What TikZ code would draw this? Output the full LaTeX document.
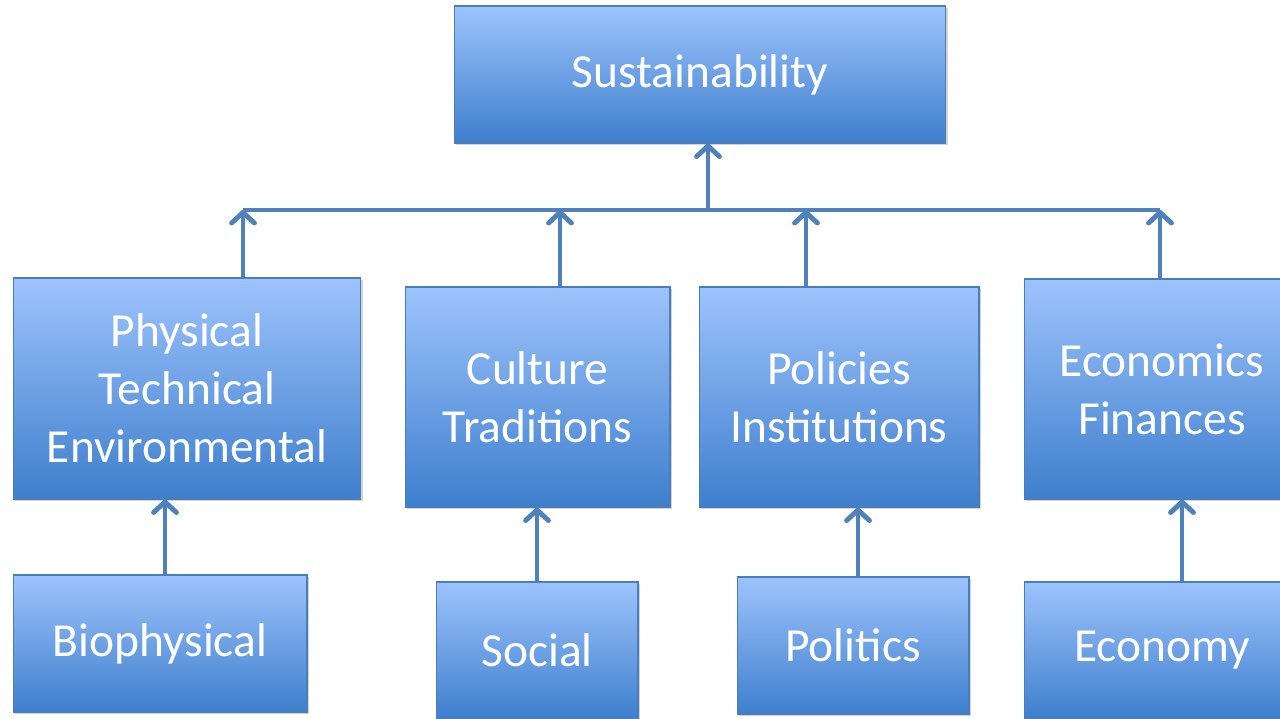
\documentclass[tikz,border=0pt]{standalone}
\usepackage{fontspec}
\setmainfont{Carlito}
\usetikzlibrary{arrows.meta,shadows}
\definecolor{boxtop}{RGB}{157,195,252}
\definecolor{boxbot}{RGB}{62,127,205}
\definecolor{boxline}{RGB}{74,126,187}
\definecolor{linkblue}{RGB}{79,129,189}
\begin{document}
\begin{tikzpicture}[x=0.02cm,y=-0.02cm,
  every node/.style={font=\fontsize{27}{33}\selectfont},
  box/.style={draw=boxline,line width=0.6pt,top color=boxtop,bottom color=boxbot,text=white,align=center,
    drop shadow={opacity=0.35,shadow xshift=1.2pt,shadow yshift=-1.2pt}},
  arr/.style={line width=2.8pt,draw=linkblue,-{Straight Barb[length=6pt,width=13pt,line cap=round,line join=round]}}]
  \useasboundingbox (0,0) rectangle (1280,719);
  \node[box,minimum width=9.84cm,minimum height=2.74cm] (sus) at (700,74.5) {Sustainability};
  \node[box,minimum width=6.96cm,minimum height=4.42cm] (phys) at (187,388.5) {Physical\\Technical\\Environmental};
  \node[box,minimum width=5.30cm,minimum height=4.40cm] (cult) at (537.5,397) {Culture\\Traditions};
  \node[box,minimum width=5.60cm,minimum height=4.40cm] (pol) at (839,397) {Policies\\Institutions};
  \node[box,minimum width=5.52cm,minimum height=4.40cm] (econ) at (1162,389) {Economics\\Finances};
  \node[box,minimum width=5.88cm,minimum height=2.74cm] (bio) at (160,643.5) {Biophysical};
  \node[box,minimum width=4.04cm,minimum height=2.74cm] (soc) at (537,650.5) {Social};
  \node[box,minimum width=4.64cm,minimum height=2.74cm] (poli) at (853,645.5) {Politics};
  \node[box,minimum width=5.52cm,minimum height=2.74cm] (ecny) at (1162,650.5) {Economy};
  % columns of the connectors
  \coordinate (bus) at (708,210);
  \coordinate (b1) at (243,0);
  \coordinate (b2) at (560,0);
  \coordinate (b3) at (806,0);
  \coordinate (b4) at (1160,0);
  \coordinate (c1) at (165,0);
  \coordinate (c2) at (537,0);
  \coordinate (c3) at (858,0);
  \coordinate (c4) at (1182,0);
  \draw[line width=2.8pt,linkblue] (bus -| b1) -- (bus -| b4);
  \draw[arr] (bus) -- (sus.south -| bus);
  \draw[arr] (phys.north -| b1) -- (bus -| b1);
  \draw[arr] (cult.north -| b2) -- (bus -| b2);
  \draw[arr] (pol.north -| b3) -- (bus -| b3);
  \draw[arr] (econ.north -| b4) -- (bus -| b4);
  \draw[arr] (bio.north -| c1) -- (phys.south -| c1);
  \draw[arr] (soc.north -| c2) -- (cult.south -| c2);
  \draw[arr] (poli.north -| c3) -- (pol.south -| c3);
  \draw[arr] (ecny.north -| c4) -- (econ.south -| c4);
\end{tikzpicture}
\end{document}
